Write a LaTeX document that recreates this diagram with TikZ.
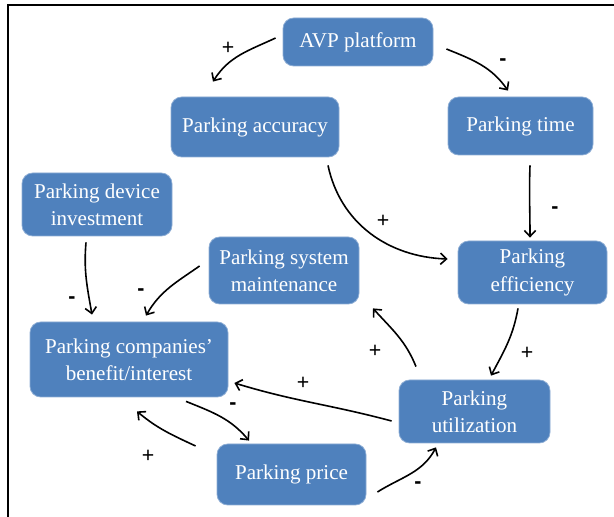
\documentclass[tikz,border=0pt]{standalone}
\usepackage{fontspec}
\setmainfont{Liberation Serif}
\newfontfamily\signfont{Liberation Sans}
\usetikzlibrary{arrows.meta,calc}
\definecolor{boxblue}{HTML}{4F81BD}
\tikzset{
  box/.style={rounded corners=8pt, fill=boxblue, draw=boxblue!65!white, line width=0.6pt,
    text=white, align=center, inner sep=0pt,
    font=\fontsize{15.8pt}{20.5pt}\selectfont},
  sz/.style 2 args={minimum width=#1*0.75pt, minimum height=#2*0.75pt},
  link/.style={line width=1.2pt, -{Straight Barb[length=4.5pt,width=8.5pt,line width=1.2pt]}},
  sign/.style={font=\signfont\fontsize{16pt}{16pt}\selectfont, inner sep=0pt},
  minus/.style={sign, font=\signfont\bfseries\fontsize{16pt}{16pt}\selectfont}
}
\begin{document}
\begin{tikzpicture}[x=0.75pt,y=0.75pt]
\useasboundingbox (0,0) rectangle (614,517);
\draw[line width=1.5pt] (7.5,0) -- (7.5,512) -- (614,512);

\node[box, sz={150}{48}] (avp) at (358,475) {AVP platform};
\node[box, sz={168}{60}] (acc) at (255,390) {Parking accuracy};
\node[box, sz={145}{58}] (time) at (520.5,391) {Parking time};
\node[box, sz={150}{63}] (dev) at (97,312.5) {Parking device\\investment};
\node[box, sz={150}{67}] (maint) at (284,246.5) {Parking system\\maintenance};
\node[box, sz={149}{63}] (eff) at (532.5,244.5) {Parking\\efficiency};
\node[box, sz={198}{75}] (comp) at (129,157.5) {Parking companies'\\benefit/interest};
\node[box, sz={151}{63}] (util) at (474.5,105.5) {Parking\\utilization};
\node[box, sz={149}{61}] (price) at (291.5,42.5) {Parking price};

\draw[link] ($(avp.west)+(-7,4)$) to[out=205,in=58] ($(acc.north)+(-42,15)$);
\draw[link] ($(avp.east)+(13,-7)$) to[out=-22,in=125] ($(time.north)+(-12.5,6)$);
\draw[link] ($(acc.south)+(73,-8)$) to[out=-78,in=178] ($(eff.west)+(-10,13.5)$);
\draw[link] ($(time.south)+(9.5,-10)$) to[out=-92,in=90] ($(eff.north)+(-2.5,3)$);
\draw[link] ($(dev.south)+(-11,-6)$) to[out=-95,in=100] ($(comp.north)+(-37,7)$);
\draw[link] ($(maint.west)+(-9,4.5)$) to[out=215,in=60] ($(comp.north)+(17,6)$);
\draw[link] ($(eff.south)+(-14.5,-4)$) to[out=-100,in=62] ($(util.north)+(16.5,4)$);
\draw[link] ($(util.north)+(-58.5,13)$) to[out=112,in=-48] ($(maint.south)+(89,-4)$);
\draw[link] ($(util.west)+(-7,-9.5)$) to[out=165,in=-17] ($(comp.east)+(6,-23.5)$);
\draw[link] ($(comp.south)+(57,-4)$) to[out=-22,in=130] ($(price.north)+(-42.5,3)$);
\draw[link] ($(price.west)+(-21,28.5)$) to[out=155,in=-40] ($(comp.south)+(8,-14)$);
\draw[link] ($(price.east)+(11,-17.5)$) to[out=32,in=-118] ($(util.south)+(-38.5,-4)$);

\node[sign] (s1) at (228,469) {+};
\node[minus] (s2) at (503,455) {-};
\node[sign] (s3) at (383,296) {+};
\node[minus] (s4) at (555,307) {-};
\node[minus] (s5) at (72,217) {-};
\node[minus] (s6) at (141,225) {-};
\node[sign] (s7) at (527,164) {+};
\node[sign] (s8) at (375,166) {+};
\node[sign] (s9) at (303,134) {+};
\node[minus] (s10) at (233,111) {-};
\node[sign] (s11) at (148,61) {+};
\node[minus] (s12) at (418,32) {-};
\end{tikzpicture}
\end{document}
